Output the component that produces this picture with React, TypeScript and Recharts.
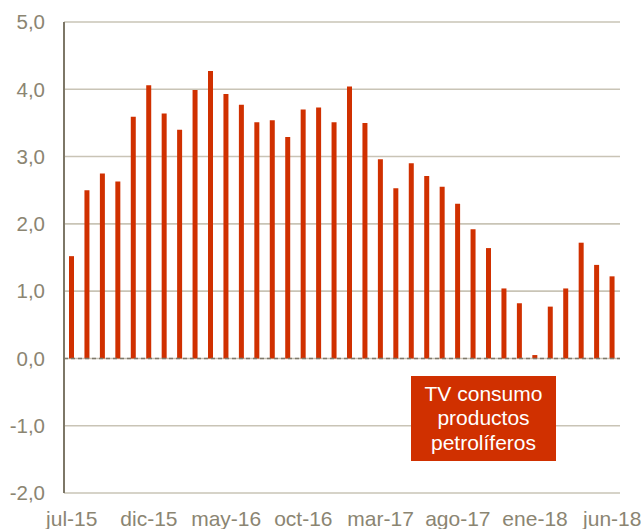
import React from 'react';
import { BarChart, Bar, XAxis, YAxis, CartesianGrid, ReferenceLine } from 'recharts';

const months = [
  'jul-15','ago-15','sep-15','oct-15','nov-15','dic-15',
  'ene-16','feb-16','mar-16','abr-16','may-16','jun-16',
  'jul-16','ago-16','sep-16','oct-16','nov-16','dic-16',
  'ene-17','feb-17','mar-17','abr-17','may-17','jun-17',
  'jul-17','ago-17','sep-17','oct-17','nov-17','dic-17',
  'ene-18','feb-18','mar-18','abr-18','may-18','jun-18',
];

const values = [
  1.52, 2.50, 2.75, 2.63, 3.59, 4.06,
  3.64, 3.40, 3.99, 4.27, 3.93, 3.77,
  3.51, 3.54, 3.29, 3.70, 3.73, 3.51,
  4.04, 3.50, 2.96, 2.53, 2.90, 2.71,
  2.55, 2.30, 1.92, 1.64, 1.04, 0.82,
  0.05, 0.77, 1.04, 1.72, 1.39, 1.22,
];

const yTicks = [-2, -1, 0, 1, 2, 3, 4, 5];
const seriesName = ['TV consumo', 'productos', 'petrolíferos'];

const data = months.map((m, i) => ({ month: m, value: values[i] }));

const FONT = '"Liberation Sans", Arial, sans-serif';
const TICK_COLOR = '#8b8572';

export default function App() {
  return (
    <div style={{ position: 'absolute', left: 0, top: 0, width: 643, height: 529, background: '#fff', fontFamily: FONT }}>
      <BarChart
        width={643}
        height={529}
        data={data}
        margin={{ top: 22, right: 23, bottom: 6, left: 0 }}
        barCategoryGap={0}
      >
        <CartesianGrid vertical={false} stroke="#c9c4b6" strokeWidth={1.6} />
        <XAxis
          dataKey="month"
          interval={4}
          axisLine={false}
          tickLine={false}
          height={30}
          tick={{ fill: TICK_COLOR, fontSize: 21, fontFamily: FONT }}
          tickMargin={12}
        />
        <YAxis
          width={64}
          domain={[-2, 5]}
          ticks={yTicks}
          interval={0}
          tickFormatter={(v: number) => v.toFixed(1).replace('.', ',')}
          axisLine={{ stroke: '#7d7767', strokeWidth: 2 }}
          tickLine={false}
          tick={{ fill: TICK_COLOR, fontSize: 20.5, fontFamily: FONT }}
          tickMargin={13}
        />
        <ReferenceLine y={0} stroke="#7f796c" strokeWidth={1.5} strokeDasharray="4 3" />
        <Bar dataKey="value" fill="#d03000" barSize={5} isAnimationActive={false} />
      </BarChart>
      <div
        style={{
          position: 'absolute',
          left: 411,
          top: 376,
          width: 145,
          height: 85,
          background: '#d03000',
          color: '#fff',
          fontFamily: FONT,
          fontSize: 21,
          lineHeight: '24.5px',
          textAlign: 'center',
          display: 'flex',
          flexDirection: 'column',
          justifyContent: 'center',
        }}
      >
        {seriesName.map((s) => (
          <div key={s}>{s}</div>
        ))}
      </div>
    </div>
  );
}
